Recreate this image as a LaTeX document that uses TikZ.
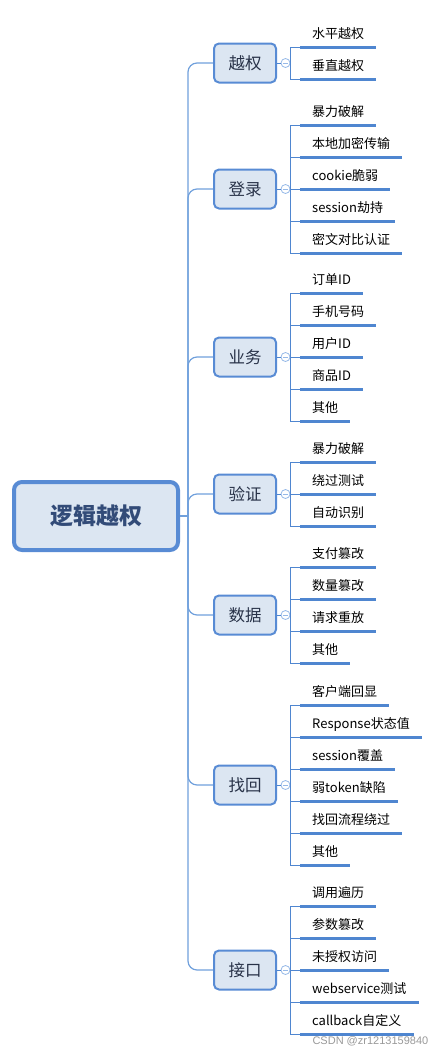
\documentclass[tikz,border=0pt]{standalone}
\usepackage{fontspec}
\setmainfont{Noto Sans CJK SC}
\newfontfamily\markfont{Liberation Sans}
\definecolor{rootblue}{RGB}{88,139,212}
\definecolor{boxfill}{RGB}{220,230,242}
\definecolor{barblue}{RGB}{79,134,208}
\definecolor{lineblue}{RGB}{112,160,220}
\definecolor{foldblue}{RGB}{150,185,232}
\definecolor{titleblue}{RGB}{50,75,120}
\definecolor{topictext}{RGB}{40,50,72}

\begin{document}
\begin{tikzpicture}[x=1pt,y=-1pt,
	root/.style={draw=rootblue, line width=4pt, fill=boxfill, rounded corners=8pt, minimum width=164pt, minimum height=68pt, font=\fontsize{23}{26}\selectfont\bfseries, text=titleblue},
	topic/.style={draw=rootblue, line width=2pt, fill=boxfill, rounded corners=5pt, minimum width=62pt, minimum height=39pt, font=\fontsize{16.5}{20}\selectfont, text=topictext},
	leaf/.style={anchor=south west, inner xsep=12pt, inner ysep=0pt, text depth=8.5pt, font=\fontsize{13}{15}\selectfont},
	fold/.style={draw=foldblue, fill=white, circle, inner sep=0pt, minimum size=9pt, line width=.8pt, path picture={\draw[foldblue, line width=.8pt] ([xshift=-2.5pt]path picture bounding box.center) -- ([xshift=2.5pt]path picture bounding box.center);}},
	branch/.style={draw=lineblue, line width=1.2pt, rounded corners=9pt},
	twig/.style={draw=barblue, line width=1pt},
	bar/.style={draw=barblue, line width=3pt}]
	\useasboundingbox (0,0) rectangle (445,1055);

	\node [root] (logic) at (96,516) {逻辑越权};
	\coordinate (hub) at (188,516);
	\draw [branch] (logic.east) -- (hub);

	\node [topic] (auth) at (245,63) {越权};
	\node [topic] (login) at (245,189) {登录};
	\node [topic] (biz) at (245,357) {业务};
	\node [topic] (verify) at (245,494) {验证};
	\node [topic] (data) at (245,615) {数据};
	\node [topic] (reset) at (245,785) {找回};
	\node [topic] (api) at (245,970) {接口};
	\draw [branch] (hub) |- (auth.west);
	\draw [branch] (hub) |- (login.west);
	\draw [branch] (hub) |- (biz.west);
	\draw [branch] (hub) |- (verify.west);
	\draw [branch] (hub) |- (data.west);
	\draw [branch] (hub) |- (reset.west);
	\draw [branch] (hub) |- (api.west);

	\node [fold] (authf) at (285.5,63) {};
	\node [fold] (loginf) at (285.5,189) {};
	\node [fold] (bizf) at (285.5,357) {};
	\node [fold] (verifyf) at (285.5,494) {};
	\node [fold] (dataf) at (285.5,615) {};
	\node [fold] (resetf) at (285.5,785) {};
	\node [fold] (apif) at (285.5,970) {};
	\draw [twig] (auth.east) -- (authf);
	\draw [twig] (login.east) -- (loginf);
	\draw [twig] (biz.east) -- (bizf);
	\draw [twig] (verify.east) -- (verifyf);
	\draw [twig] (data.east) -- (dataf);
	\draw [twig] (reset.east) -- (resetf);
	\draw [twig] (api.east) -- (apif);

	% 越权
	\node [leaf] (auth1) at (300,47) {水平越权};
	\node [leaf] (auth2) at (300,79) {垂直越权};
	\draw [twig] (auth1.south west) -| (authf.east |- auth2.south west) -- (auth2.south west);
	\draw [bar] (auth1.south west) -- (auth1.south east);
	\draw [bar] (auth2.south west) -- (auth2.south east);

	% 登录
	\node [leaf] (login1) at (300,125) {暴力破解};
	\node [leaf] (login2) at (300,157) {本地加密传输};
	\node [leaf] (login3) at (300,189) {cookie脆弱};
	\node [leaf] (login4) at (300,221) {session劫持};
	\node [leaf] (login5) at (300,253) {密文对比认证};
	\draw [twig] (login1.south west) -| (loginf.east |- login5.south west) -- (login5.south west);
	\draw [twig] (loginf.east |- login2.south west) -- (login2.south west);
	\draw [twig] (loginf.east |- login3.south west) -- (login3.south west);
	\draw [twig] (loginf.east |- login4.south west) -- (login4.south west);
	\draw [bar] (login1.south west) -- (login1.south east);
	\draw [bar] (login2.south west) -- (login2.south east);
	\draw [bar] (login3.south west) -- (login3.south east);
	\draw [bar] (login4.south west) -- (login4.south east);
	\draw [bar] (login5.south west) -- (login5.south east);

	% 业务
	\node [leaf] (biz1) at (300,293) {订单ID};
	\node [leaf] (biz2) at (300,325) {手机号码};
	\node [leaf] (biz3) at (300,357) {用户ID};
	\node [leaf] (biz4) at (300,389) {商品ID};
	\node [leaf] (biz5) at (300,421) {其他};
	\draw [twig] (biz1.south west) -| (bizf.east |- biz5.south west) -- (biz5.south west);
	\draw [twig] (bizf.east |- biz2.south west) -- (biz2.south west);
	\draw [twig] (bizf.east |- biz3.south west) -- (biz3.south west);
	\draw [twig] (bizf.east |- biz4.south west) -- (biz4.south west);
	\draw [bar] (biz1.south west) -- (biz1.south east);
	\draw [bar] (biz2.south west) -- (biz2.south east);
	\draw [bar] (biz3.south west) -- (biz3.south east);
	\draw [bar] (biz4.south west) -- (biz4.south east);
	\draw [bar] (biz5.south west) -- (biz5.south east);

	% 验证
	\node [leaf] (verify1) at (300,462) {暴力破解};
	\node [leaf] (verify2) at (300,494) {绕过测试};
	\node [leaf] (verify3) at (300,526) {自动识别};
	\draw [twig] (verify1.south west) -| (verifyf.east |- verify3.south west) -- (verify3.south west);
	\draw [twig] (verifyf.east |- verify2.south west) -- (verify2.south west);
	\draw [bar] (verify1.south west) -- (verify1.south east);
	\draw [bar] (verify2.south west) -- (verify2.south east);
	\draw [bar] (verify3.south west) -- (verify3.south east);

	% 数据
	\node [leaf] (data1) at (300,567) {支付篡改};
	\node [leaf] (data2) at (300,599) {数量篡改};
	\node [leaf] (data3) at (300,631) {请求重放};
	\node [leaf] (data4) at (300,663) {其他};
	\draw [twig] (data1.south west) -| (dataf.east |- data4.south west) -- (data4.south west);
	\draw [twig] (dataf.east |- data2.south west) -- (data2.south west);
	\draw [twig] (dataf.east |- data3.south west) -- (data3.south west);
	\draw [bar] (data1.south west) -- (data1.south east);
	\draw [bar] (data2.south west) -- (data2.south east);
	\draw [bar] (data3.south west) -- (data3.south east);
	\draw [bar] (data4.south west) -- (data4.south east);

	% 找回
	\node [leaf] (reset1) at (300,705) {客户端回显};
	\node [leaf] (reset2) at (300,737) {Response状态值};
	\node [leaf] (reset3) at (300,769) {session覆盖};
	\node [leaf] (reset4) at (300,801) {弱token缺陷};
	\node [leaf] (reset5) at (300,833) {找回流程绕过};
	\node [leaf] (reset6) at (300,865) {其他};
	\draw [twig] (reset1.south west) -| (resetf.east |- reset6.south west) -- (reset6.south west);
	\draw [twig] (resetf.east |- reset2.south west) -- (reset2.south west);
	\draw [twig] (resetf.east |- reset3.south west) -- (reset3.south west);
	\draw [twig] (resetf.east |- reset4.south west) -- (reset4.south west);
	\draw [twig] (resetf.east |- reset5.south west) -- (reset5.south west);
	\draw [bar] (reset1.south west) -- (reset1.south east);
	\draw [bar] (reset2.south west) -- (reset2.south east);
	\draw [bar] (reset3.south west) -- (reset3.south east);
	\draw [bar] (reset4.south west) -- (reset4.south east);
	\draw [bar] (reset5.south west) -- (reset5.south east);
	\draw [bar] (reset6.south west) -- (reset6.south east);

	% 接口
	\node [leaf] (api1) at (300,906) {调用遍历};
	\node [leaf] (api2) at (300,938) {参数篡改};
	\node [leaf] (api3) at (300,970) {未授权访问};
	\node [leaf] (api4) at (300,1002) {webservice测试};
	\node [leaf] (api5) at (300,1034) {callback自定义};
	\draw [twig] (api1.south west) -| (apif.east |- api5.south west) -- (api5.south west);
	\draw [twig] (apif.east |- api2.south west) -- (api2.south west);
	\draw [twig] (apif.east |- api3.south west) -- (api3.south west);
	\draw [twig] (apif.east |- api4.south west) -- (api4.south west);
	\draw [bar] (api1.south west) -- (api1.south east);
	\draw [bar] (api2.south west) -- (api2.south east);
	\draw [bar] (api3.south west) -- (api3.south east);
	\draw [bar] (api4.south west) -- (api4.south east);
	\draw [bar] (api5.south west) -- (api5.south east);

	\node [anchor=west, text=black!40, font=\markfont\fontsize{11}{13}\selectfont] (mark) at (309,1041) {CSDN @zr1213159840};
\end{tikzpicture}
\end{document}
